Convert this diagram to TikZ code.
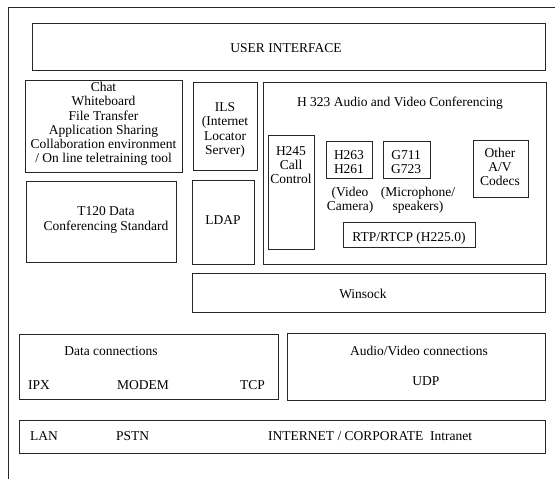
\documentclass[tikz,border=0pt]{standalone}
\usepackage{fontspec}
\setmainfont{Liberation Serif}
\usetikzlibrary{fit}
\begin{document}
\begin{tikzpicture}[x=1pt,y=-1pt,
  box/.style={draw=black!85,line width=1pt,inner sep=0pt},
  txt/.style={inner sep=0pt,align=center},
  every node/.append style={font=\fontsize{13.5}{14.3}\selectfont}]
\useasboundingbox (0,0) rectangle (555,479);
% outer frame (top and left lines only)
\coordinate (otr) at (555,7);
\coordinate (otl) at (8,7);
\coordinate (obl) at (8,479);
\draw[black!85,line width=1pt] (otr) -- (otl) -- (obl);
% boxes
\node[box,fit={(32,23) (545,70)}] (ui) {};
\node[txt] (uit) at (286,48) {USER INTERFACE};
\node[box,fit={(25,80) (182,172)}] (chat) {};
\node[txt] (chatt) at (103.5,124) {Chat\\Whiteboard\\File Transfer\\Application Sharing\\Collaboration environment\\/ On line teletraining tool};
\node[box,fit={(26,181) (176,262)}] (t120) {};
\node[txt] (t120t) at (106,220) {T120 Data\\Conferencing Standard};
\node[box,fit={(193,82) (257,170)}] (ils) {};
\node[txt] (ilst) at (225,130) {ILS\\(Internet\\Locator\\Server)};
\node[box,fit={(192,180) (254,264)}] (ldap) {};
\node[txt] (ldapt) at (223,220) {LDAP};
\node[box,fit={(263,82) (546,264)}] (h323) {};
\node[txt] (h323t) at (400,103) {H 323 Audio and Video Conferencing};
\node[box,fit={(268,135) (314,249)}] (h245) {};
\node[txt] (h245t) at (291,165) {H245\\Call\\Control};
\node[box,fit={(326,141) (372,178)}] (h263) {};
\node[txt] (h263t) at (349,162) {H263\\H261};
\node[box,fit={(383,141) (430,178)}] (g711) {};
\node[txt] (g711t) at (406,162) {G711\\G723};
\node[box,fit={(473,140) (528,197)}] (other) {};
\node[txt] (othert) at (500,167) {Other\\A/V\\Codecs};
\node[txt] (vid) at (350,200) {(Video\\Camera)};
\node[txt] (mic) at (418,200) {(Microphone/\\speakers)};
\node[box,fit={(343,222) (475,247)}] (rtp) {};
\node[txt] (rtpt) at (409,238) {RTP/RTCP (H225.0)};
\node[box,fit={(192,273) (545,312)}] (winsock) {};
\node[txt] (winsockt) at (363,294) {Winsock};
\node[box,fit={(19,334) (278,399)}] (data) {};
\node[txt] (datat) at (111,351) {Data connections};
\node[txt,anchor=west] (ipx) at (28,385) {IPX};
\node[txt] (modem) at (143,385) {MODEM};
\node[txt,anchor=east] (tcp) at (265,385) {TCP};
\node[box,fit={(287,333) (545,400)}] (av) {};
\node[txt] (avt) at (419,351) {Audio/Video connections};
\node[txt] (udp) at (426,381) {UDP};
\node[box,fit={(19,420) (545,453)}] (lan) {};
\node[txt,anchor=west] (lant) at (30,436) {LAN};
\node[txt,anchor=west] (pstn) at (116,436) {PSTN};
\node[txt,anchor=west] (inet) at (268,436) {INTERNET / CORPORATE\ \ Intranet};
\end{tikzpicture}
\end{document}
